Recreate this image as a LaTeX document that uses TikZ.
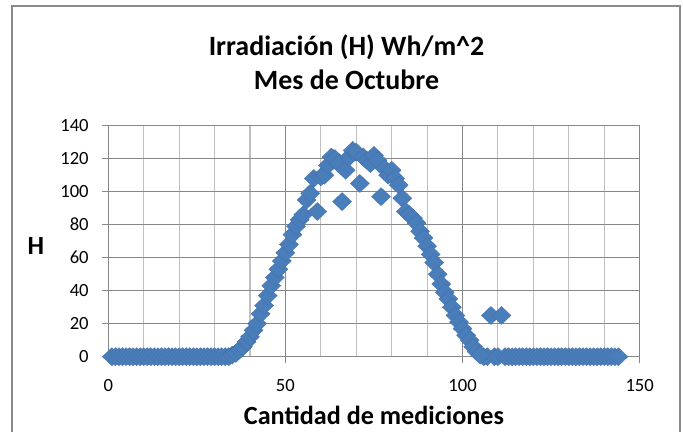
\documentclass[tikz,border=0pt]{standalone}
\usepackage{fontspec}
\setmainfont{Carlito}
\usetikzlibrary{positioning}

\definecolor{serieblue}{HTML}{4A7EBB}
\definecolor{gridmajor}{HTML}{878787}
\definecolor{gridminor}{HTML}{C0C0C0}
\definecolor{chartframe}{HTML}{8A8A8A}

\tikzset{
  gridmaj/.style={draw=gridmajor, line width=0.6pt},
  gridmin/.style={draw=gridminor, line width=0.6pt},
  ticklabel/.style={font=\fontsize{10.6}{12}\selectfont, inner sep=0pt},
  axistitle/.style={font=\fontsize{14.9}{17}\selectfont\bfseries, inner sep=0pt},
  marker/.style={fill=serieblue, draw=serieblue!90!black, line width=0.2pt},
}

\begin{document}
\begin{tikzpicture}[x=0.02cm, y=0.02cm]
  \useasboundingbox (0,0) rectangle (683,432);

  % Chart frame
  \draw[chartframe, line width=0.9pt] (12,-5) -- (12,426) -- (680,426) -- (680,-5);

  % Titles
  \node[font=\fontsize{15.9}{19.3}\selectfont\bfseries, align=center] (title) at (346.5,370)
    {Irradiación (H) Wh/m\textasciicircum 2\\Mes de Octubre};
  \node[axistitle] (xtitle) at (374,17) {Cantidad de mediciones};
  \node[axistitle] (ytitle) at (36,186) {H};

  % Plot area
  \coordinate (O) at (108.3,75.3);
  \begin{scope}[shift={(O)}, x=0.07086cm, y=0.033cm]
    % Grid
    \foreach \gx in {10,20,30,40,60,70,80,90,110,120,130,140}
      \draw[gridmin] (\gx,0) -- (\gx,140);
    \foreach \gy in {0,20,...,140}{
      \draw[gridmaj] (-1.7,\gy) -- (150,\gy);
      \node[ticklabel, anchor=east] (yl\gy) at (-5.45,\gy) {\gy};
    }
    \foreach \gx in {0,50,100,150}{
      \draw[gridmaj] (\gx,-4) -- (\gx,140);
      \node[ticklabel] (xl\gx) at (\gx,-17.2) {\gx};
    }

    % Measurements
    \foreach \hx in {1,...,34,106,107,109,110,112,113,...,144}
      \fill[marker] (\hx,0) +(-0.19cm,0cm) -- +(0cm,0.18cm) -- +(0.19cm,0cm) -- +(0cm,-0.18cm) -- cycle;
    \foreach \hx/\hy in {35/1,36/2,37/4,38/6,39/9,40/12,41/16,42/20,43/26,
      44/31,45/37,46/43,47/48,48/53,49/58,50/63,51/68,52/74,53/79,54/83,55/86,
      56/95,57/99,58/108,59/88,60/109,61/110,62/116,63/121,64/120,65/117,66/94,
      67/113,68/121,69/125,70/124,71/105,72/121,73/119,74/117,75/122,76/119,
      77/97,78/114,79/110,80/113,81/108,82/104,83/96,84/88,85/86,86/84,87/81,
      88/76,89/72,90/67,91/62,92/57,93/50,94/44,95/39,96/35,97/30,98/25,99/21,
      100/17,101/13,102/10,103/6,104/3,105/1,108/25,111/25}
      \fill[marker] (\hx,\hy) +(-0.19cm,0cm) -- +(0cm,0.18cm) -- +(0.19cm,0cm) -- +(0cm,-0.18cm) -- cycle;
  \end{scope}
\end{tikzpicture}
\end{document}
